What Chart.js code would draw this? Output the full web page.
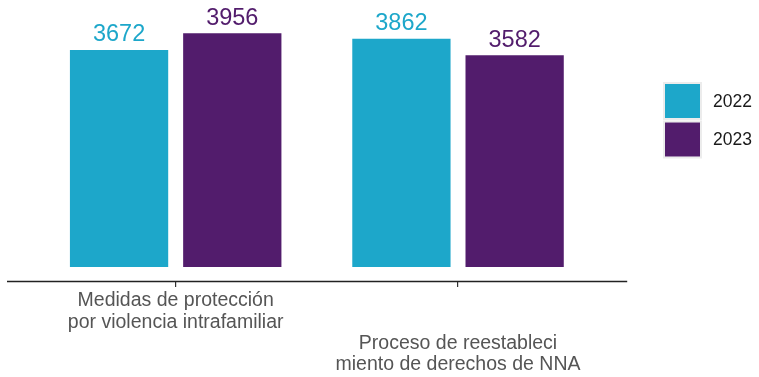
<!DOCTYPE html>
<html><head><meta charset="utf-8">
<script src="https://cdn.jsdelivr.net/npm/chart.js@4/dist/chart.umd.min.js"></script>
<style>html,body{margin:0;padding:0;background:#fff;overflow:hidden;}</style>
</head><body>
<canvas id="c" width="759" height="377" style="display:block;width:759px;height:377px"></canvas>
<script>
const categories = [
  ['Medidas de protección', 'por violencia intrafamiliar'],
  ['Proceso de reestableci', 'miento de derechos de NNA']
];
const seriesNames = ['2022', '2023'];
const values2022 = [3672, 3862];
const values2023 = [3956, 3582];
const seriesColors = ['#1DA7CA', '#521C6C'];

const FONT = "'Liberation Sans', Arial, sans-serif";

const valueLabels = {
  id: 'valueLabels',
  afterDatasetsDraw(chart) {
    const ctx = chart.ctx;
    ctx.save();
    ctx.font = '23.5px ' + FONT;
    ctx.textAlign = 'center';
    ctx.textBaseline = 'alphabetic';
    chart.data.datasets.forEach((ds, i) => {
      const meta = chart.getDatasetMeta(i);
      ctx.fillStyle = ds.backgroundColor;
      meta.data.forEach((bar, j) => {
        ctx.fillText(String(ds.data[j]), bar.x, bar.y - 8.5);
      });
    });
    ctx.restore();
  }
};

const axisLine = {
  id: 'axisLine',
  afterDraw(chart) {
    const ctx = chart.ctx;
    const x = chart.scales.x;
    ctx.save();
    ctx.strokeStyle = '#222';
    ctx.lineWidth = 1.4;
    ctx.beginPath();
    ctx.moveTo(x.left - 27.5, x.top + 0.5);
    ctx.lineTo(x.right + 28, x.top + 0.5);
    ctx.stroke();
    ctx.restore();
  }
};

const sideLegend = {
  id: 'sideLegend',
  afterDraw(chart) {
    const ctx = chart.ctx;
    ctx.save();
    chart.data.datasets.forEach((ds, i) => {
      const y0 = 84 + i * 38.5;
      ctx.strokeStyle = '#ececec';
      ctx.lineWidth = 2;
      ctx.strokeRect(664, y0 - 1, 37, 36);
      ctx.fillStyle = ds.backgroundColor;
      ctx.fillRect(665, y0, 35, 34);
      ctx.fillStyle = '#1a1a1a';
      ctx.font = '17.5px ' + FONT;
      ctx.textAlign = 'left';
      ctx.textBaseline = 'middle';
      ctx.fillText(ds.label, 713, y0 + 18);
    });
    ctx.restore();
  }
};

new Chart(document.getElementById('c'), {
  type: 'bar',
  data: {
    labels: categories,
    datasets: [
      { label: seriesNames[0], data: values2022, backgroundColor: seriesColors[0] },
      { label: seriesNames[1], data: values2023, backgroundColor: seriesColors[1] }
    ]
  },
  options: {
    responsive: false,
    devicePixelRatio: 1,
    animation: false,
    layout: { padding: { left: 34.5, right: 159.8, top: 1, bottom: 0 } },
    datasets: { bar: { categoryPercentage: 0.802, barPercentage: 0.868, borderWidth: 0 } },
    plugins: { legend: { display: false }, tooltip: { enabled: false } },
    scales: {
      y: { display: false, min: -237, max: 4500 },
      x: {
        offset: true,
        border: { display: false },
        grid: { offset: false, drawOnChartArea: false, drawTicks: true, tickLength: 6, color: '#333', lineWidth: 1.2 },
        ticks: {
          color: '#555',
          font: { family: FONT, size: 19.5, lineHeight: 1.1 },
          padding: 3,
          maxRotation: 0,
          minRotation: 0,
          autoSkip: false,
          callback: function (v, i) {
            const lab = categories[i];
            return i % 2 ? ['', ''].concat(lab) : lab;
          }
        },
        afterFit: (s) => { s.height = 96; }
      }
    }
  },
  plugins: [valueLabels, axisLine, sideLegend]
});
</script>
</body></html>
